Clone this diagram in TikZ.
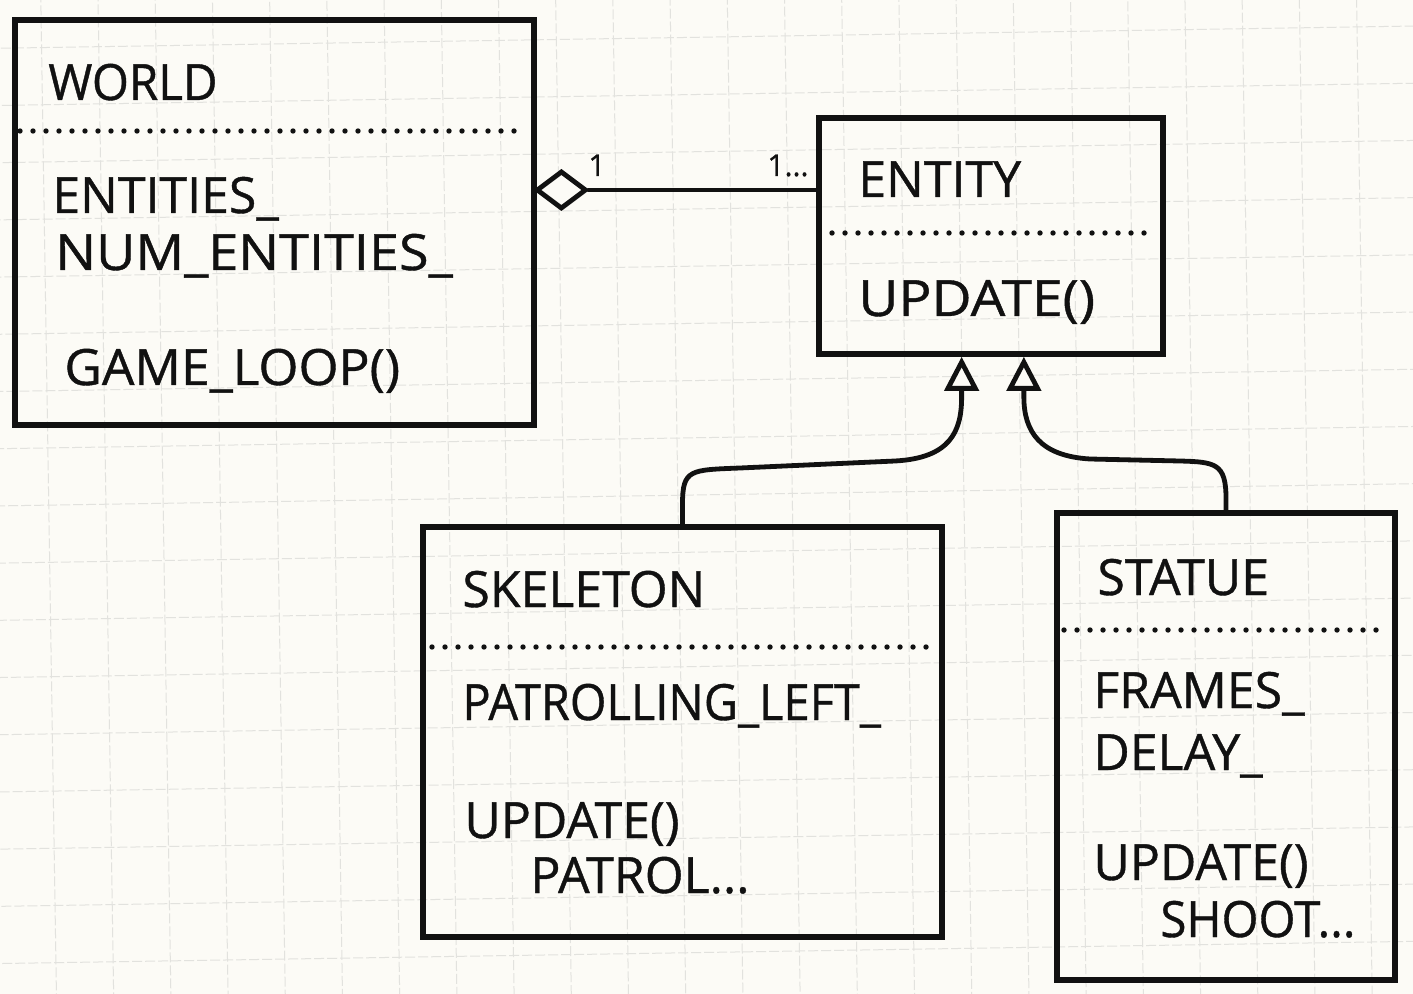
\documentclass[tikz,border=0pt]{standalone}
\usepackage{fontspec}
\setmainfont{Open Sans}
\newfontfamily\penfont[FakeBold=0.8]{Open Sans}
\usetikzlibrary{arrows.meta,shapes.geometric,calc}
\definecolor{paper}{HTML}{FCFBF6}
\definecolor{ink}{HTML}{111111}
\definecolor{gridline}{HTML}{E2E2DE}
% stretch a line of lettering horizontally
\newcommand{\stretchline}[2]{\scalebox{#1}[1]{#2}}

\begin{document}
\begin{tikzpicture}[x=0.5pt,y=-0.5pt,
  classbox/.style={draw=ink, line width=2.8pt, rectangle, inner sep=0pt},
  txt/.style={anchor=base west, inner sep=0pt, text=ink, font=\penfont\fontsize{25}{25}\selectfont},
  mult/.style={anchor=base west, inner sep=0pt, text=ink, font=\penfont\fontsize{15}{15}\selectfont},
  sep/.style={draw=ink, line width=2.7pt, line cap=round, dash pattern=on 0pt off 6.5pt},
  link/.style={draw=ink, line width=2.4pt, line cap=round},
  inherit/.style={link, -{Triangle[length=17pt,width=17pt,fill=paper]}},
  gridrule/.style={draw=gridline, line width=0.5pt, dash pattern=on 5pt off 1.5pt},
]
% squared paper
\fill[paper] (0,0) rectangle (1413,994);
\useasboundingbox (0,0) rectangle (1413,994);
\begin{scope}
  \clip (0,0) rectangle (1413,994);
  \begin{scope}[rotate around={0.9:(706,497)}]
    \foreach \i in {-3,...,28}
      \draw[gridrule] ({48.7+57.2*\i},-200) -- ({48.7+57.2*\i},1200);
    \foreach \j in {-4,...,21}
      \draw[gridrule] (-200,{37.2+57.2*\j}) -- (1600,{37.2+57.2*\j});
  \end{scope}
\end{scope}

% class boxes
\node[classbox, minimum width=259.5pt, minimum height=202.5pt] (world) at (274.5,222.5) {};
\node[classbox, minimum width=172pt, minimum height=118pt] (entity) at (991,236) {};
\node[classbox, minimum width=259.5pt, minimum height=205pt] (skeleton) at (682.5,732) {};
\node[classbox, minimum width=169pt, minimum height=233.5pt] (statue) at (1226,746.5) {};

% World
\node[txt] (worldname) at (48,100) {\stretchline{0.95}{WORLD}};
\draw[sep] (20,131) -- (525,131);
\node[txt] (worldf1) at (52,213) {ENTITIES\_};
\node[txt] (worldf2) at (55,270) {\stretchline{1.08}{NUM\_ENTITIES\_}};
\node[txt] (worldm1) at (64,385) {\stretchline{1.03}{GAME\_LOOP()}};

% Entity
\node[txt] (entityname) at (858,197) {ENTITY};
\draw[sep] (832,233) -- (1152,233);
\node[txt] (entitym1) at (858,316) {\stretchline{1.1}{UPDATE()}};

% Skeleton
\node[txt] (skelname) at (462,607) {SKELETON};
\draw[sep] (432,647) -- (932,647);
\node[txt] (skelf1) at (462,720) {\stretchline{0.94}{PATROLLING\_LEFT\_}};
\node[txt] (skelm1) at (464,838) {UPDATE()};
\node[txt] (skelm2) at (530,893) {PATROL...};

% Statue
\node[txt] (statname) at (1097,595) {STATUE};
\draw[sep] (1064,630) -- (1388,630);
\node[txt] (statf1) at (1093,708) {FRAMES\_};
\node[txt] (statf2) at (1093,770) {DELAY\_};
\node[txt] (statm1) at (1093,880) {UPDATE()};
\node[txt] (statm2) at (1160,937) {\stretchline{0.95}{SHOOT...}};

% aggregation World -> Entity
\node[diamond, draw=ink, line width=2.4pt, fill=paper, minimum width=25pt,
      minimum height=19pt, inner sep=0pt, anchor=west] (agg) at (534,190) {};
\draw[link] (agg.east) -- (agg.east -| entity.west);
\node[mult] (multone) at (588,176) {1};
\node[mult] (multmany) at (767,176) {1...};

% generalisation Skeleton, Statue -> Entity
\coordinate (e1) at ($(entity.south west)!0.416!(entity.south east)$);
\coordinate (e2) at ($(entity.south west)!0.594!(entity.south east)$);
\draw[inherit] (skeleton.north) -- ++(0,-20)
  .. controls ++(0,-35) and (690,470) .. (740,468) -- (895,461)
  .. controls (950,458) and ($(e1)+(0,75)$) .. ($(e1)+(0,40)$) -- (e1);
\draw[inherit] (statue.north) -- ++(0,-12)
  .. controls ++(0,-35) and (1215,462) .. (1180,461) -- (1090,459)
  .. controls (1040,456) and ($(e2)+(0,75)$) .. ($(e2)+(0,40)$) -- (e2);
\end{tikzpicture}
\end{document}
